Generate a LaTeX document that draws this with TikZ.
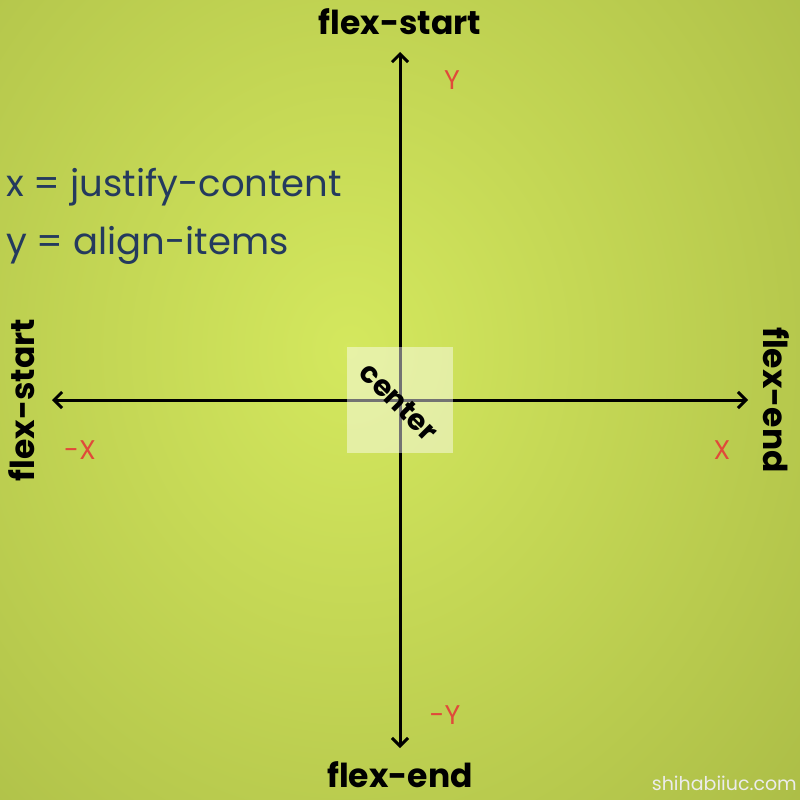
\documentclass[tikz,border=0pt]{standalone}
\usepackage{fontspec}
\setmainfont{Poppins}
\usetikzlibrary{arrows.meta}
\definecolor{bgin}{HTML}{D4E85E}
\definecolor{bgout}{HTML}{A9BA45}
\definecolor{axred}{HTML}{E04A3A}
\definecolor{navy}{HTML}{243A5E}
\tikzset{
 axis/.style={line width=3pt,{Straight Barb[length=8pt,width=16pt,line width=3pt]}-{Straight Barb[length=8pt,width=16pt,line width=3pt]}},
 big/.style={font=\fontsize{33}{38}\selectfont\bfseries,inner sep=0pt},
 red/.style={font=\fontsize{27}{30}\selectfont,text=axred,inner sep=0pt},
 note/.style={font=\fontsize{37}{42}\selectfont,text=navy,inner sep=0pt,anchor=west}
}
\begin{document}
\begin{tikzpicture}[x=1pt,y=-1pt]
\useasboundingbox (0,0) rectangle (800,800);
\shade[inner color=bgin,outer color=bgout] (-300,-400) rectangle (1000,1100);
\coordinate (T) at (400,52); \coordinate (B) at (400,748);
\coordinate (L) at (52,400); \coordinate (R) at (748,400);
\draw[axis] (T) -- (B);
\draw[axis] (L) -- (R);
\fill[white,opacity=0.45] (347,347) rectangle (453,453);
\node[big,font=\fontsize{29}{32}\selectfont\bfseries,rotate=-45] (c) at (399,402) {center};
\node[big] (ts) at (400,22) {flex-start};
\node[big] (be) at (400,775) {flex-end};
\node[big,rotate=90] (ls) at (22,400) {flex-start};
\node[big,rotate=-90] (re) at (776,400) {flex-end};
\node[red] (y) at (452,80) {Y};
\node[red] (my) at (445,715) {-Y};
\node[red] (mx) at (80,450) {-X};
\node[red] (x) at (722,450) {X};
\node[note] (n1) at (6,187) {x = justify-content};
\node[note] (n2) at (6,245) {y = align-items};
\node[font=\fontsize{19}{22}\selectfont,text=white!85!gray,anchor=east,inner sep=0pt] (w) at (797,783) {shihabiiuc.com};
\end{tikzpicture}
\end{document}
